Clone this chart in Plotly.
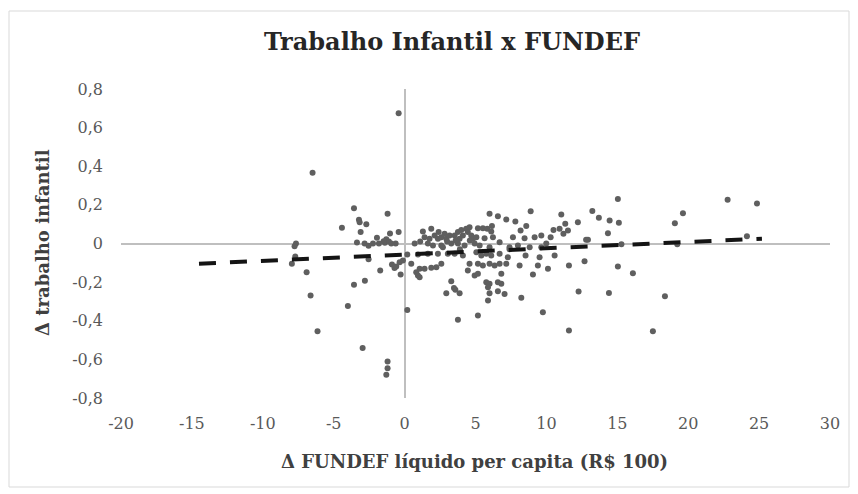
import plotly.graph_objects as go

# Δ FUNDEF líquido per capita (R$ 100)  -> x
fundef_delta = [
    -6.49, -3.57, -3.22, -3.17, -2.70, -1.20, -4.42, -3.10, -1.03, -0.42,
    -7.66, -7.76, -3.36, -2.82, -2.54, -2.23, -1.95, -1.81, -1.39, -1.29,
    -1.11, -0.63, -1.48, -0.94, -7.71, -7.95, -2.54, -1.72, -0.89, -0.71,
    -0.59, -0.35, -0.28, -6.91, -3.57, -2.80, -6.63, -4.00, -6.14, -2.96,
    -1.20, -1.20, -1.29, -0.42, -0.12,
    0.19, 0.94, 1.64, 2.35, 3.05, 3.53, 4.11, 0.47, 1.06, 0.82,
    0.94, 1.06, 1.41, 1.88, 2.24, 2.59, 3.29, 3.48, 3.58, 2.94,
    3.88, 4.58, 4.46, 4.94, 0.19, 3.76,
    1.29, 1.88, 1.41, 1.76, 2.12, 2.35, 2.59, 2.82, 2.94, 3.17,
    3.53, 3.76, 3.88, 4.11, 4.35, 4.46, 4.58, 4.70, 4.82, 0.71,
    1.64, 2.00, 2.59, 3.29, 3.76, 4.23, 4.94,
    2.40, 3.00, 3.60, 1.10, 4.00, 2.70, 3.90, 4.60,
    5.99, 6.58, 7.17, 7.81, 8.89, 8.58, 8.18, 5.17, 5.52, 5.83,
    6.16, 6.11, 5.06, 5.64, 6.23, 6.70, 7.64, 8.46, 9.17, 9.64,
    5.29, 5.99, 7.40, 7.99, 8.82, 9.64,
    5.06, 5.41, 5.76, 6.11, 6.70, 7.28, 5.17, 5.52, 5.99, 6.35,
    6.70, 7.17, 5.17, 8.11, 9.40, 9.05, 6.82, 5.76, 5.99, 5.88,
    6.58, 6.82, 5.99, 6.58, 7.05, 5.88, 8.23, 5.17, 9.75,
    11.05, 13.24, 13.70, 14.46, 15.04, 15.11, 12.22, 11.33, 11.52, 10.93,
    14.34, 12.93, 10.30, 9.99, 8.53, 9.52, 10.11, 10.58, 11.59, 11.59,
    12.27, 12.69, 14.41, 15.04,
    15.29, 16.10, 17.51, 18.36, 19.06, 19.63, 19.23, 22.78, 24.85, 24.14,
    11.20, 10.50, 7.40, 12.80,
]

# Δ trabalho infantil -> y
trabalho_delta = [
    0.366, 0.183, 0.123, 0.110, 0.100, 0.154, 0.081, 0.060, 0.052, 0.059,
    0.000, -0.014, 0.005, 0.000, -0.012, 0.000, 0.030, 0.000, 0.004, 0.022,
    0.010, 0.000, 0.012, 0.000, -0.067, -0.105, -0.081, -0.140, -0.109, -0.127,
    -0.119, -0.097, -0.161, -0.149, -0.214, -0.193, -0.269, -0.323, -0.454, -0.541,
    -0.611, -0.646, -0.680, 0.674, -0.088,
    -0.057, -0.057, -0.053, -0.053, -0.053, -0.053, -0.062, -0.105, -0.131, -0.149,
    -0.166, -0.175, -0.131, -0.126, -0.123, -0.105, -0.195, -0.230, -0.240, -0.258,
    -0.258, -0.105, -0.140, -0.166, -0.344, -0.395,
    0.062, 0.076, 0.033, 0.024, 0.041, 0.024, 0.033, 0.050, 0.024, 0.041,
    0.041, 0.059, 0.024, 0.041, 0.076, 0.059, 0.084, 0.041, 0.024, 0.000,
    0.000, -0.010, -0.010, 0.000, 0.000, -0.010, 0.000,
    0.060, 0.010, 0.015, 0.010, 0.070, -0.020, -0.030, 0.015,
    0.154, 0.141, 0.124, 0.114, 0.167, 0.090, 0.067, 0.079, 0.079, 0.076,
    0.090, 0.062, 0.033, 0.027, 0.033, 0.007, 0.033, 0.027, 0.033, 0.041,
    -0.010, -0.019, -0.019, -0.010, -0.019, -0.019,
    -0.045, -0.062, -0.053, -0.062, -0.053, -0.071, -0.105, -0.114, -0.105, -0.114,
    -0.105, -0.105, -0.157, -0.114, -0.114, -0.161, -0.157, -0.200, -0.209, -0.226,
    -0.200, -0.209, -0.258, -0.247, -0.261, -0.295, -0.281, -0.373, -0.356,
    0.150, 0.168, 0.133, 0.119, 0.231, 0.107, 0.110, 0.102, 0.067, 0.076,
    0.053, 0.019, 0.033, 0.000, -0.062, -0.071, -0.131, -0.062, -0.451, -0.114,
    -0.249, -0.092, -0.256, -0.119,
    -0.004, -0.154, -0.454, -0.273, 0.105, 0.157, -0.004, 0.226, 0.207, 0.038,
    0.050, 0.070, -0.030, 0.020,
]

# linear trend line
trend_x = [-14.5, 25.2]
trend_slope = 0.00326
trend_intercept = -0.057
trend_y = [trend_intercept + trend_slope * v for v in trend_x]

x_tickvals = [-20, -15, -10, -5, 0, 5, 10, 15, 20, 25, 30]
x_ticktext = ["-20", "-15", "-10", "-5", "0", "5", "10", "15", "20", "25", "30"]
y_tickvals = [-0.8, -0.6, -0.4, -0.2, 0, 0.2, 0.4, 0.6, 0.8]
y_ticktext = ["-0,8", "-0,6", "-0,4", "-0,2", "0", "0,2", "0,4", "0,6", "0,8"]

SERIF = "DejaVu Serif, Liberation Serif, serif"

# the page body has an 8px margin; target plot area in window pixels
OFF = 8
L, R, T, B = 121, 830, 89, 398
W, H = R - L, B - T
FIG_W, FIG_H = 858 - OFF, 494 - OFF


def px(x):
    return (x - L) / W


def py(y):
    return (B - y) / H


fig = go.Figure()
fig.add_trace(go.Scatter(
    x=fundef_delta, y=trabalho_delta, mode="markers",
    marker=dict(size=6, color="#5f5f5f"),
    showlegend=False, hoverinfo="x+y",
))
fig.add_trace(go.Scatter(
    x=trend_x, y=trend_y, mode="lines",
    line=dict(color="#141414", width=4, dash="17px,14px"),
    showlegend=False,
))

# light chart frame
fig.add_shape(type="rect", xref="paper", yref="paper",
              x0=px(9), x1=px(849), y0=py(487), y1=py(11),
              line=dict(color="#d9d9d9", width=1), fillcolor="rgba(0,0,0,0)",
              layer="below")

fig.add_annotation(text="<b>Trabalho Infantil x FUNDEF</b>", xref="paper", yref="paper",
                   x=px(452), y=py(42), xanchor="center", yanchor="middle",
                   showarrow=False, font=dict(family=SERIF, size=24, color="#262626"))
fig.add_annotation(text="<b>Δ FUNDEF líquido per capita (R$ 100)</b>", xref="paper", yref="paper",
                   x=px(474), y=py(461), xanchor="center", yanchor="middle",
                   showarrow=False, font=dict(family=SERIF, size=18, color="#404040"))
fig.add_annotation(text="<b>Δ trabalho infantil</b>", xref="paper", yref="paper",
                   x=px(42), y=py(243), xanchor="center", yanchor="middle", textangle=-90,
                   showarrow=False, font=dict(family=SERIF, size=18, color="#404040"))

fig.update_layout(
    width=FIG_W, height=FIG_H,
    margin=dict(l=L - OFF, r=858 - R, t=T - OFF, b=FIG_H - (B - OFF)),
    paper_bgcolor="white", plot_bgcolor="white",
    font=dict(family=SERIF, color="#595959", size=16),
    xaxis=dict(range=[-20, 30], tickvals=x_tickvals, ticktext=x_ticktext,
               showgrid=False, zeroline=True, zerolinecolor="#bfbfbf",
               zerolinewidth=1.5, showline=False, ticks="",
               ticklabelstandoff=14,
               tickfont=dict(family=SERIF, size=16, color="#595959")),
    yaxis=dict(range=[-0.8, 0.8], tickvals=y_tickvals, ticktext=y_ticktext,
               showgrid=False, zeroline=True, zerolinecolor="#bfbfbf",
               zerolinewidth=1.5, showline=False, ticks="",
               ticklabelstandoff=17,
               tickfont=dict(family=SERIF, size=16, color="#595959")),
)

fig.write_html("out.html")
